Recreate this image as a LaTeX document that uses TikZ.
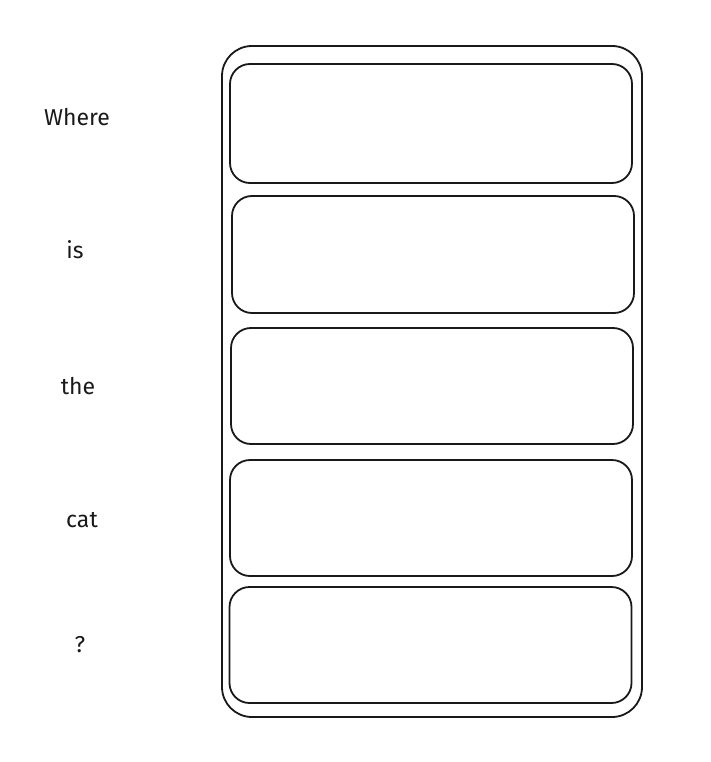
\documentclass[tikz,border=0pt]{standalone}
\usepackage{fontspec}
\setmainfont{Fira Sans}
\usetikzlibrary{positioning}

\begin{document}
\begin{tikzpicture}[x=1pt, y=-1pt,
    every node/.style={font=\fontsize{23}{27}\selectfont, text=black!90},
    frame/.style={draw=black!90, line width=1.8pt, rounded corners=30pt, inner sep=0pt, outer sep=0pt},
    slot/.style={draw=black!90, line width=1.8pt, rounded corners=20pt, inner sep=0pt, outer sep=0pt,
        minimum width=402pt, minimum height=116pt}]
				\useasboundingbox (0,0) rectangle (710,762);

				% outer container
				\node[frame, minimum width=420pt, minimum height=671pt] (stack) at (432,381.5) {};

				% one slot per token
				\node[slot, minimum height=119pt] (s1) at (431,123.5) {};
				\node[slot, minimum height=117pt] (s2) at (433,254.5) {};
				\node[slot] (s3) at (432,386) {};
				\node[slot] (s4) at (431,518) {};
				\node[slot] (s5) at (430.5,645) {};

				% tokens
				\node (w1) at (77,117) {Where};
				\node (w2) at (75,250) {is};
				\node (w3) at (78,386) {the};
				\node (w4) at (82,520) {cat};
				\node (w5) at (80,645) {?};
			\end{tikzpicture}
\end{document}
